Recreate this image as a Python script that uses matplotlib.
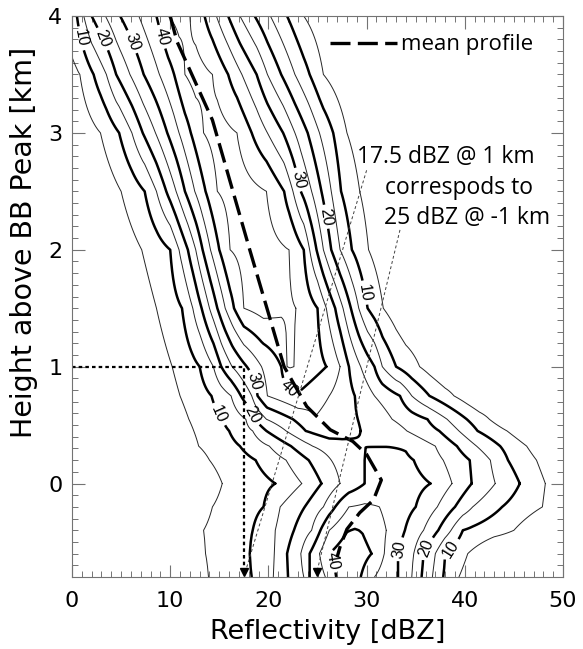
import numpy as np
import matplotlib.pyplot as plt
from matplotlib.ticker import MultipleLocator

plt.rcParams['font.family'] = ['DejaVu Sans']

# contour levels of occurrence frequency
thin_levels = [5, 15, 25, 35, 45]
thick_levels = [10, 20, 30, 40]

# frequency profiles: (reflectivity dBZ, frequency) at each height
row_m080 = [(11, 0), (13.9, 5), (18.3, 10), (20.5, 15), (22.0, 20), (23.6, 25), (24.2, 30), (25.8, 35), (26.9, 40),
            (28.2, 43), (29.4, 40), (30.8, 35), (33.2, 30), (34.6, 25), (35.6, 20), (36.7, 15), (37.8, 10), (39.4, 5), (42, 0)]
row_m060 = [(10.5, 0), (13.6, 5), (18.1, 10), (20.6, 15), (21.9, 20), (23.3, 25), (24.2, 30), (25.2, 35), (26.2, 40),
            (28.3, 44), (30.5, 40), (31.8, 35), (33.2, 30), (34.8, 25), (35.8, 20), (37.0, 15), (38.0, 10), (40.3, 5), (43, 0)]
row_m040 = [(10.5, 0), (13.4, 5), (18.4, 10), (20.7, 15), (22.6, 20), (24.4, 25), (25.3, 30), (26.2, 35), (28.0, 39.7),
            (28.8, 40.3), (29.6, 39.7), (32.0, 35), (33.9, 30), (35.8, 25), (37.3, 20), (38.6, 15), (39.8, 10), (45.0, 5), (48, 0)]
row_m020 = [(11, 0), (14.3, 5), (19.5, 10), (21.2, 15), (23.7, 20), (25.6, 25), (26.8, 30), (28.2, 35), (29.8, 35.8),
            (31.3, 35), (35.0, 30), (37.2, 25), (39.0, 20), (40.8, 15), (43.8, 10), (47.9, 5), (50.5, 0)]
row_p000 = [(12, 0), (15.3, 5), (20.7, 10), (23.4, 15), (25.4, 20), (27.3, 25), (29.8, 30), (32.5, 33.5),
            (36.5, 30), (38.7, 25), (40.7, 20), (43.1, 15), (45.6, 10), (48.2, 5), (51, 0)]
row_p020 = [(11, 0), (14.0, 5), (18.7, 10), (21.8, 15), (24.1, 20), (26.4, 25), (29.8, 30), (32.3, 32),
            (34.8, 30), (37.8, 25), (40.5, 20), (42.6, 15), (44.4, 10), (47.3, 5), (50, 0)]
row_p032 = [(9.9, 0), (12.9, 5), (17.1, 10), (20.1, 15), (22.3, 20), (24.5, 25), (27.5, 28.5), (29.7, 30.0),
            (32.0, 29.9), (34.0, 29.6), (37.0, 25), (39.2, 20), (41.2, 15), (43.6, 10), (46.3, 5), (49, 0)]
row_p045 = [(9.4, 0), (12.4, 5), (16.0, 10), (18.4, 15), (19.8, 20), (21.8, 25), (23.8, 30), (26.2, 33.0),
            (29.4, 30), (31.5, 29.3), (34.1, 25), (37.4, 20), (39.4, 15), (41.3, 10), (44.3, 5), (47, 0)]
row_p055 = [(8.9, 0), (11.9, 5), (15.3, 10), (17.7, 15), (18.6, 20), (19.8, 25), (22.5, 30), (24.8, 34.7),
            (29.1, 30), (31.0, 28.5), (32.6, 25), (36.2, 20), (38.2, 15), (40.2, 10), (42.5, 5), (45, 0)]
row_p075 = [(8, 0), (11.0, 5), (14.2, 10), (16.2, 15), (17.2, 20), (18.3, 25), (18.9, 30), (19.9, 35), (23.0, 39.5),
            (26.2, 35), (28.8, 30), (30.8, 25), (33.4, 20), (34.6, 15), (36.4, 10), (38.9, 5), (41.5, 0)]
row_p100 = [(7, 0), (10.2, 5), (13.0, 10), (14.4, 15), (15.2, 20), (16.3, 25), (17.8, 30), (19.3, 35), (21.3, 40),
            (21.9, 45), (22.2, 45.3), (22.6, 45), (25.9, 40), (27.3, 35), (28.2, 30), (29.4, 25), (30.8, 20), (31.6, 15),
            (33.0, 10), (35.4, 5), (38, 0)]
row_p150 = [(5.5, 0), (8.6, 5), (11.2, 10), (12.3, 15), (13.2, 20), (14.0, 25), (14.8, 30), (15.6, 35), (16.5, 40),
            (17.5, 45), (19.5, 47), (22.8, 45), (25.0, 40), (25.9, 35), (26.8, 30), (27.6, 25), (28.4, 20), (29.2, 15),
            (30.1, 10), (31.7, 5), (34, 0)]
row_p200 = [(3.5, 0), (7.1, 5), (10.0, 10), (10.9, 15), (11.8, 20), (12.6, 25), (13.3, 30), (14.1, 35), (15.0, 40),
            (16.1, 45), (18.5, 47.5), (22.1, 45), (23.6, 40), (24.2, 35), (24.9, 30), (25.6, 25), (26.4, 20), (27.3, 15),
            (28.5, 10), (30.2, 5), (33, 0)]
row_p250 = [(2, 0), (5.0, 5), (7.4, 10), (8.6, 15), (9.6, 20), (10.6, 25), (11.5, 30), (12.5, 35), (13.6, 40),
            (14.8, 45), (17.0, 47.5), (19.8, 45), (21.6, 40), (22.5, 35), (23.3, 30), (24.4, 25), (25.4, 20), (26.4, 15),
            (27.4, 10), (29.3, 5), (32, 0)]
row_p300 = [(-0.5, 0), (2.9, 5), (4.8, 10), (6.1, 15), (7.2, 20), (8.5, 25), (9.7, 30), (10.9, 35), (12.1, 40),
            (13.4, 45), (14.8, 47), (16.8, 45), (18.3, 40), (19.9, 35), (21.5, 30), (22.7, 25), (24.0, 20), (25.2, 15),
            (26.6, 10), (28.0, 5), (31, 0)]
row_p350 = [(-2, 0), (0.8, 5), (2.2, 10), (3.5, 15), (4.5, 20), (5.9, 25), (7.3, 30), (8.9, 35), (10.4, 40),
            (11.5, 45), (12.6, 47), (14.3, 45), (15.9, 40), (17.3, 35), (18.8, 30), (19.9, 25), (21.3, 20), (22.7, 15),
            (24.2, 10), (25.6, 5), (28.5, 0)]
row_p400 = [(-4, 0), (-1.0, 5), (0.5, 10), (1.2, 15), (2.0, 20), (3.4, 25), (4.9, 30), (6.8, 35), (8.6, 40), (9.8, 45),
            (10.9, 46.5), (12.0, 45), (13.5, 40), (14.7, 35), (15.9, 30), (17.1, 25), (18.6, 20), (20.2, 15), (21.9, 10),
            (23.6, 5), (26.5, 0)]

row_heights = [-0.8, -0.6, -0.4, -0.2, 0.0, 0.2, 0.32, 0.45, 0.55, 0.75, 1.0, 1.5, 2.0, 2.5, 3.0, 3.5, 4.0]
rows = [row_m080, row_m060, row_m040, row_m020, row_p000, row_p020, row_p032, row_p045, row_p055,
        row_p075, row_p100, row_p150, row_p200, row_p250, row_p300, row_p350, row_p400]

# mean reflectivity profile
mean_z = [10.0, 10.7, 14.3, 18.1, 21.6, 23.9, 26.3, 28.6, 30.0, 31.5, 30.7, 29.3, 28.0, 27.3, 27.0]
mean_h = [4.0, 3.78, 3.11, 2.0, 1.0, 0.66, 0.46, 0.36, 0.25, 0.03, -0.14, -0.25, -0.39, -0.54, -0.63]

# contour label spots
label_spots = [(1.0, 3.81), (3.0, 3.8), (6.1, 3.78), (9.0, 3.82),
               (23.0, 2.6), (25.6, 2.28), (29.5, 1.63),
               (14.9, 0.59), (17.9, 0.58), (18.3, 0.87), (21.9, 0.79),
               (27.0, -0.65), (33.2, -0.56), (35.6, -0.54), (38.2, -0.54)]

# build gridded field from the profiles
xg = np.arange(-5, 55.01, 0.1)
field = np.array([np.interp(xg, [p[0] for p in r], [p[1] for p in r], left=0, right=0) for r in rows])

fig = plt.figure(figsize=(5.83, 6.49), dpi=100)
ax = fig.add_axes([0.1235, 0.1109, 0.8422, 0.8644])

ax.contour(xg, row_heights, field, levels=thin_levels, colors='0.15', linewidths=0.7)
cs = ax.contour(xg, row_heights, field, levels=thick_levels, colors='black', linewidths=1.8)
labels = ax.clabel(cs, manual=label_spots, inline=True, inline_spacing=2, fmt='%d', fontsize=11.5)
for t in labels:
    t.set_family('Liberation Sans')

ax.plot(mean_z, mean_h, color='black', lw=2.4, dashes=(6, 2.2))

# 17.5 dBZ at 1 km
ax.plot([0, 17.5, 17.5], [1.0, 1.0, -0.78], color='black', lw=1.6, dashes=(1.6, 1.4))
ax.plot([30.0, 17.6], [2.68, -0.77], color='0.25', lw=0.7, dashes=(3, 2.5))
ax.plot([33.4, 24.9], [2.17, -0.77], color='0.25', lw=0.7, dashes=(3, 2.5))
ax.plot([17.55, 24.9], [-0.76, -0.76], ls='none', marker='v', ms=6, color='black')

ax.plot([26.3, 33.1], [3.77, 3.77], color='black', lw=2.4, dashes=(6, 2.2))
ax.text(33.5, 3.76, 'mean profile', fontsize=16, family='Open Sans', va='center')
ax.text(38.1, 2.79, '17.5 dBZ @ 1 km', fontsize=16.5, family='Open Sans', ha='center', va='center')
ax.text(39.4, 2.53, 'correspods to', fontsize=16.5, family='Open Sans', ha='center', va='center')
ax.text(40.2, 2.27, '25 dBZ @ -1 km', fontsize=16.5, family='Open Sans', ha='center', va='center')

ax.set_xlim(0, 50)
ax.set_ylim(-0.8, 4)
ax.xaxis.set_major_locator(MultipleLocator(10))
ax.xaxis.set_minor_locator(MultipleLocator(1))
ax.yaxis.set_major_locator(MultipleLocator(1))
ax.yaxis.set_minor_locator(MultipleLocator(0.1))
ax.tick_params(which='both', direction='in', top=True, right=True, color='0.45', labelsize=16)
ax.tick_params(axis='x', pad=10)
ax.tick_params(axis='y', pad=7)
ax.tick_params(which='major', length=9, width=0.8)
ax.tick_params(which='minor', length=4, width=0.7)
for s in ax.spines.values():
    s.set_color('0.45')
ax.set_xlabel('Reflectivity [dBZ]', fontsize=19.5)
ax.set_ylabel('Height above BB Peak [km]', fontsize=20.5)
ax.xaxis.set_label_coords(0.521, -0.075)
ax.yaxis.set_label_coords(-0.07, 0.597)

fig.savefig('out.png', dpi=100)
